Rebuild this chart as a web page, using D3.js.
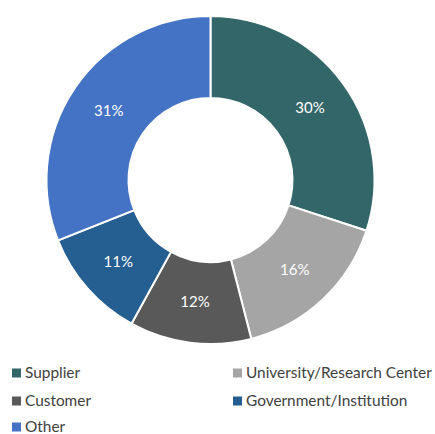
<!DOCTYPE html>
<html><head><meta charset="utf-8">
<script src="https://cdn.jsdelivr.net/npm/d3@7"></script>
<style>body{margin:0;background:#fff;} svg{display:block;}</style>
</head><body>
<svg id="c" width="435" height="434"></svg>
<script>
const categories = ["Supplier","University/Research Center","Customer","Government/Institution","Other"];
const values = [30,16,12,11,31];
const colors = ["#336669","#A5A5A5","#595959","#255E91","#4472C4"];

const svg = d3.select("#c");
const cx = 210.5, cy = 180, rOut = 164, rIn = 82;
const g = svg.append("g").attr("transform",`translate(${cx},${cy})`);
const pie = d3.pie().sort(null).value(d=>d.v);
const data = categories.map((c,i)=>({c, v:values[i], col:colors[i]}));
const arcs = pie(data);
const arc = d3.arc().innerRadius(rIn).outerRadius(rOut);
g.selectAll("path").data(arcs).enter().append("path")
  .attr("d",arc).attr("fill",d=>d.data.col).attr("stroke","#fff").attr("stroke-width",2);
g.selectAll("text").data(arcs).enter().append("text")
  .attr("transform",d=>`translate(${arc.centroid(d)})`)
  .attr("text-anchor","middle").attr("dy","0.35em")
  .attr("fill","#fff").attr("font-family","Lato, 'Open Sans', sans-serif").attr("font-size",15)
  .text(d=>d.data.v+"%");

const legendPos = [[12,373],[233,373],[12,401],[233,401],[12,427]];
const lg = svg.append("g");
data.forEach((d,i)=>{
  const [x,y] = legendPos[i];
  lg.append("rect").attr("x",x).attr("y",y-4.5).attr("width",9).attr("height",9).attr("fill",d.col);
  lg.append("text").attr("x",x+13).attr("y",y).attr("dy","0.35em")
    .attr("font-family","Lato, 'Open Sans', sans-serif").attr("font-size",15.4).attr("fill","#404040")
    .text(d.c);
});
</script>
</body></html>
